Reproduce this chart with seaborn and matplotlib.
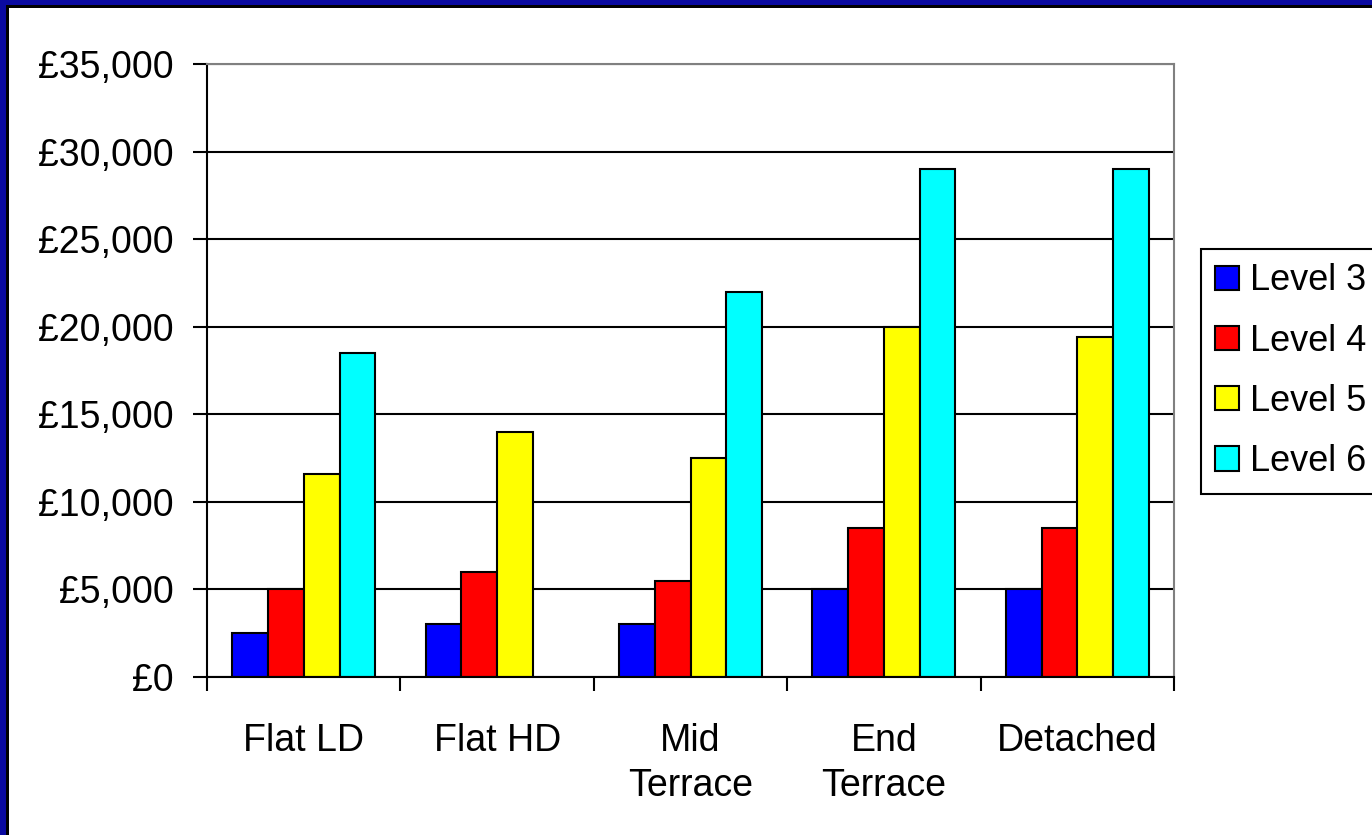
import matplotlib
matplotlib.use("Agg")
import matplotlib.pyplot as plt
import matplotlib.ticker as mticker
from matplotlib.patches import Rectangle
import numpy as np
import pandas as pd
import seaborn as sns

# values (GBP)
house_types = ["Flat LD", "Flat HD", "Mid\nTerrace", "End\nTerrace", "Detached"]
levels = ["Level 3", "Level 4", "Level 5", "Level 6"]
level_3 = [2500, 3000, 3000, 5000, 5000]
level_4 = [5000, 6000, 5500, 8500, 8500]
level_5 = [11600, 14000, 12500, 20000, 19400]
level_6 = [18500, np.nan, 22000, 29000, 29000]
level_colors = ["#0000FF", "#FF0000", "#FFFF00", "#00FFFF"]

rows = []
for level, vals in zip(levels, [level_3, level_4, level_5, level_6]):
    for house, v in zip(house_types, vals):
        rows.append({"Type": house, "Level": level, "Cost": v})
df = pd.DataFrame(rows)

sns.set_style("white", rc={"text.color": "black", "xtick.color": "black",
                           "ytick.color": "black", "axes.labelcolor": "black"})
plt.rcParams["font.family"] = ["Liberation Sans", "DejaVu Sans"]

fig = plt.figure(figsize=(13.72, 8.35), dpi=100)
ax = fig.add_axes([0.1509, 0.1892, 0.7048, 0.7342])

sns.barplot(data=df, x="Type", y="Cost", hue="Level", order=house_types,
            hue_order=levels, palette=level_colors, width=0.74,
            edgecolor="black", linewidth=1.5, saturation=1, ax=ax)

ax.set_xlim(-0.5, 4.5)
ax.set_ylim(0, 35000)
ax.set_yticks(np.arange(0, 35001, 5000))
ax.yaxis.set_major_formatter(mticker.FuncFormatter(lambda v, p: f"£{v:,.0f}"))
ax.yaxis.grid(True, color="black", linewidth=1.5)
ax.set_axisbelow(True)
ax.set_xlabel("")
ax.set_ylabel("")

# ticks between the categories, labels centred on them
ax.set_xticks(np.arange(-0.5, 5, 1))
ax.set_xticklabels([])
ax.set_xticks(range(5), minor=True)
ax.set_xticklabels(house_types, minor=True, linespacing=1.32)
ax.tick_params(axis="x", which="major", direction="out", length=10, width=1.5, color="black")
ax.tick_params(axis="x", which="minor", length=0, pad=33, labelsize=27)
ax.tick_params(axis="y", direction="out", length=10, width=1.5, color="black", pad=14, labelsize=27)
ax.tick_params(left=True, bottom=True)

for side in ["left", "bottom"]:
    ax.spines[side].set_color("black")
    ax.spines[side].set_linewidth(1.5)
for side in ["top", "right"]:
    ax.spines[side].set_color("#808080")
    ax.spines[side].set_linewidth(1.5)

handles, labels = ax.get_legend_handles_labels()
leg = ax.legend(handles, labels, loc="upper left", bbox_to_anchor=(0.8753, 0.7018),
                bbox_transform=fig.transFigure, fontsize=26, frameon=True,
                fancybox=False, shadow=False, borderaxespad=0, borderpad=0.4,
                handlelength=0.66, handleheight=0.66, handletextpad=0.3,
                labelspacing=0.70)
leg.get_frame().set_edgecolor("black")
leg.get_frame().set_linewidth(1.5)
leg.get_frame().set_alpha(1)

# dark blue frame on the left and top edges
W, H = 1372, 835
fig.patches.append(Rectangle((0, 0), 6 / W, 1, transform=fig.transFigure,
                             facecolor="#0A0AA0", edgecolor="none", zorder=10))
fig.patches.append(Rectangle((6 / W, 0), 2.5 / W, 1 - 5 / H, transform=fig.transFigure,
                             facecolor="black", edgecolor="none", zorder=10))
fig.patches.append(Rectangle((0, 1 - 5 / H), 1, 5 / H, transform=fig.transFigure,
                             facecolor="#0A0AA0", edgecolor="none", zorder=10))
fig.patches.append(Rectangle((6 / W, 1 - 7.5 / H), 1, 2.5 / H, transform=fig.transFigure,
                             facecolor="black", edgecolor="none", zorder=10))

fig.savefig("out.png", dpi=100, facecolor="white")
